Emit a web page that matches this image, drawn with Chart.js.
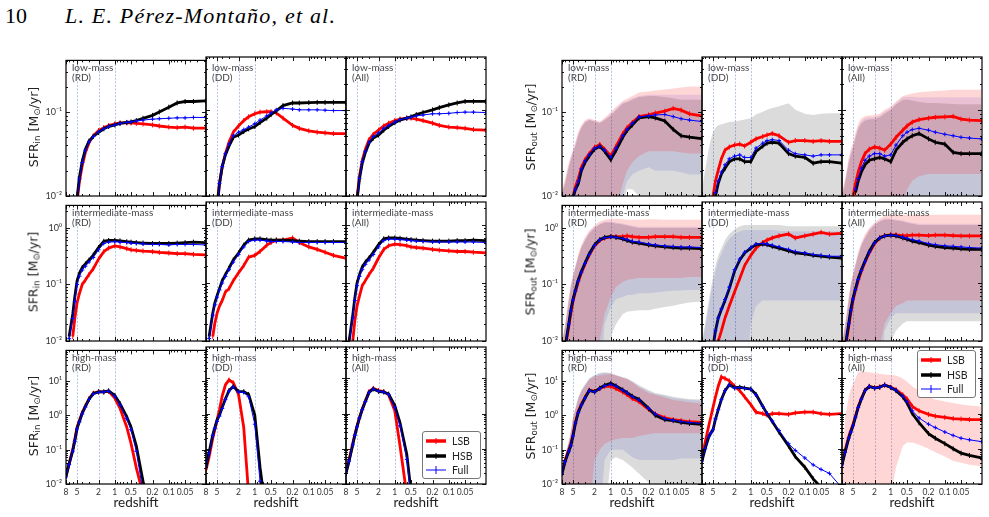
<!DOCTYPE html>
<html><head><meta charset="utf-8">
<script src="https://cdn.jsdelivr.net/npm/chart.js@4.4.1/dist/chart.umd.min.js"></script>
<style>
body{margin:0;background:#fff;width:989px;height:517px;overflow:hidden;position:relative;font-family:Lato,'Open Sans',sans-serif;}
canvas{position:absolute;}
.hd{position:absolute;font-family:'Liberation Serif','DejaVu Serif',serif;font-size:22px;line-height:24px;color:#000;white-space:nowrap}
.pl{position:absolute;font-size:10px;line-height:10px;color:#444;white-space:nowrap}
.yt{position:absolute;font-family:'DejaVu Sans',sans-serif;font-size:12.5px;color:#222;white-space:nowrap;transform:translate(-50%,-50%) rotate(-90deg);}
.yt sub{font-size:70%;vertical-align:-0.25em;line-height:0}
.xt{position:absolute;font-size:13.5px;line-height:16px;color:#222;white-space:nowrap;transform:translateX(-50%);}
.leg{position:absolute;background:#fff;border:1px solid #777;border-radius:3px;box-sizing:border-box;}
.li{position:absolute;left:0;height:14px;width:100%;font-size:10.5px;line-height:14px;color:#222;}
.li svg{position:absolute;left:2px;top:0;}
.li span{position:absolute;left:29px;top:0;}
</style></head><body>
<div class="hd" style="left:5px;top:4px;">10</div>
<div class="hd" style="left:65px;top:4px;font-style:italic;letter-spacing:1.2px;">L. E. Pérez-Montaño, et al.</div>
<script>
var n = null;
// redshift sampling grid (x values)
var Z = [8,7,6,5.5,5,4.5,4,3.5,3,2.5,2,1.6,1.3,1,0.8,0.6,0.5,0.4,0.3,0.2,0.15,0.1,0.07,0.05,0.035,0.021];
var xTickZ = [8,5,2,1,0.5,0.2,0.1,0.05];
var xTickLabels = ['8','5','2','1','0.5','0.2','0.1','0.05'];
var VLINES = [5,2,1];
var yTickVals = [0.01,0.1,1,10];
var yTickLabels = ['10\u207B\u00B2','10\u207B\u00B9','10\u2070','10\u00B9'];

// ---------- SFR_in ----------
var in_low_RD_HSB  = [n,n,n,0.005,0.0095,0.017,0.026,0.036,0.045,0.051,0.057,0.063,0.067,0.07,0.073,0.075,0.076,0.079,0.084,0.091,0.1,0.114,0.128,0.133,0.133,0.135];
var in_low_RD_LSB  = [n,n,n,0.004,0.0085,0.015,0.023,0.033,0.043,0.052,0.06,0.065,0.069,0.072,0.074,0.074,0.074,0.073,0.072,0.07,0.068,0.066,0.065,0.066,0.064,0.064];
var in_low_RD_Full = [n,n,n,0.0045,0.009,0.016,0.025,0.035,0.044,0.051,0.058,0.063,0.067,0.07,0.073,0.075,0.076,0.078,0.08,0.082,0.083,0.084,0.085,0.085,0.086,0.086];
var in_low_DD_HSB  = [n,n,n,n,0.007,0.014,0.022,0.03,0.038,0.048,0.051,0.056,0.06,0.064,0.071,0.08,0.088,0.097,0.112,0.12,0.12,0.121,0.122,0.122,0.122,0.122];
var in_low_DD_LSB  = [n,n,n,n,0.008,0.014,0.022,0.031,0.042,0.055,0.065,0.075,0.083,0.09,0.094,0.095,0.095,0.092,0.08,0.066,0.061,0.057,0.055,0.054,0.053,0.053];
var in_low_DD_Full = [n,n,n,n,0.0075,0.014,0.022,0.031,0.04,0.05,0.055,0.059,0.063,0.069,0.076,0.085,0.092,0.1,0.104,0.102,0.1,0.1,0.1,0.099,0.098,0.098];
var in_low_All_HSB  = [n,n,n,n,0.009,0.016,0.024,0.032,0.041,0.047,0.051,0.058,0.064,0.071,0.076,0.08,0.083,0.088,0.093,0.1,0.106,0.114,0.12,0.125,0.125,0.125];
var in_low_All_LSB  = [n,n,n,n,0.0095,0.017,0.026,0.035,0.045,0.052,0.058,0.065,0.07,0.075,0.078,0.08,0.08,0.078,0.075,0.07,0.066,0.063,0.062,0.061,0.059,0.058];
var in_low_All_Full = [n,n,n,n,0.009,0.016,0.025,0.033,0.042,0.049,0.054,0.061,0.066,0.072,0.077,0.08,0.082,0.085,0.087,0.09,0.09,0.091,0.093,0.094,0.094,0.093];

var in_int_RD_HSB  = [n,0.012,0.03,0.06,0.115,0.16,0.2,0.23,0.27,0.33,0.45,0.58,0.6,0.6,0.59,0.57,0.56,0.55,0.54,0.53,0.53,0.53,0.54,0.55,0.56,0.55];
var in_int_RD_Full = [n,0.011,0.025,0.05,0.1,0.14,0.18,0.21,0.25,0.3,0.41,0.53,0.56,0.57,0.56,0.55,0.54,0.53,0.52,0.51,0.51,0.5,0.51,0.51,0.51,0.5];
var in_int_RD_LSB  = [n,n,0.012,0.025,0.047,0.07,0.1,0.12,0.15,0.19,0.28,0.38,0.44,0.48,0.46,0.43,0.41,0.4,0.39,0.38,0.37,0.36,0.35,0.35,0.34,0.334];
var in_int_DD_HSB  = [n,0.012,0.03,0.045,0.06,0.08,0.11,0.14,0.18,0.25,0.33,0.45,0.55,0.58,0.58,0.56,0.55,0.55,0.55,0.54,0.53,0.52,0.52,0.52,0.52,0.52];
var in_int_DD_Full = [n,0.011,0.028,0.042,0.057,0.076,0.1,0.13,0.17,0.23,0.31,0.42,0.52,0.55,0.55,0.53,0.52,0.52,0.52,0.51,0.5,0.5,0.5,0.5,0.5,0.5];
var in_int_DD_LSB  = [n,n,0.012,0.02,0.03,0.04,0.05,0.07,0.08,0.11,0.15,0.2,0.28,0.3,0.35,0.45,0.5,0.55,0.55,0.6,0.5,0.42,0.38,0.34,0.3,0.27];
var in_int_All_HSB  = [n,0.01,0.028,0.055,0.1,0.14,0.19,0.23,0.27,0.34,0.46,0.58,0.6,0.6,0.59,0.57,0.56,0.55,0.54,0.53,0.53,0.53,0.54,0.54,0.55,0.54];
var in_int_All_Full = [n,0.009,0.025,0.05,0.09,0.13,0.17,0.21,0.25,0.31,0.42,0.54,0.57,0.57,0.56,0.55,0.54,0.53,0.52,0.51,0.51,0.51,0.51,0.51,0.51,0.5];
var in_int_All_LSB  = [n,n,0.01,0.022,0.04,0.06,0.09,0.11,0.14,0.18,0.27,0.38,0.44,0.47,0.46,0.44,0.42,0.41,0.4,0.38,0.37,0.36,0.35,0.35,0.34,0.33];

var in_high_RD_HSB  = [0.0164,0.038,0.094,0.18,0.41,0.67,1.15,1.8,2.96,4.3,4.8,4.8,5.2,3.8,2.2,0.9,0.45,0.13,0.012,0.001,n,n,n,n,n,n];
var in_high_RD_Full = [0.016,0.037,0.09,0.175,0.4,0.65,1.1,1.75,2.9,4.2,4.7,4.8,5.1,3.6,2.0,0.8,0.38,0.09,0.006,0.0005,n,n,n,n,n,n];
var in_high_RD_LSB  = [0.018,0.04,0.1,0.2,0.45,0.72,1.2,1.9,3.0,4.4,4.9,4.8,5.0,3.2,1.6,0.45,0.15,0.03,0.005,0.0005,n,n,n,n,n,n];
var in_high_DD_LSB  = [0.025,0.06,0.2,0.35,0.65,1.3,3.2,6.5,9,7.5,3.5,0.4,0.005,n,n,n,n,n,n,n,n,n,n,n,n,n];
var in_high_DD_HSB  = [0.03,0.08,0.25,0.4,0.65,0.9,1.5,2.6,4.5,5.9,4.2,4.2,3.5,0.9,0.03,0.001,n,n,n,n,n,n,n,n,n,n];
var in_high_DD_Full = [0.03,0.075,0.24,0.38,0.6,0.85,1.4,2.5,4.4,5.7,4.1,4.0,3.0,0.5,0.012,0.0005,n,n,n,n,n,n,n,n,n,n];
var in_high_All_HSB  = [0.02,0.045,0.13,0.24,0.42,0.75,1.3,2.2,4.0,5.0,4.3,4.1,3.6,1.7,0.55,0.07,0.006,n,n,n,n,n,n,n,n,n];
var in_high_All_Full = [0.02,0.045,0.13,0.24,0.42,0.75,1.3,2.2,4.0,5.0,4.3,4.1,3.5,1.5,0.45,0.05,0.004,n,n,n,n,n,n,n,n,n];
var in_high_All_LSB  = [0.022,0.05,0.14,0.25,0.45,0.78,1.35,2.3,4.2,5.2,4.5,4.2,3.4,1.2,0.12,0.005,n,n,n,n,n,n,n,n,n,n];

// ---------- SFR_out ----------
var out_low_RD_HSB  = [n,n,n,n,0.0095,0.012,0.014,0.02,0.025,0.03,0.036,0.039,0.034,0.027,0.035,0.05,0.06,0.07,0.085,0.088,0.085,0.078,0.062,0.052,0.05,0.048];
var out_low_RD_Full = [n,n,n,n,0.01,0.012,0.015,0.021,0.026,0.031,0.037,0.039,0.035,0.029,0.037,0.052,0.062,0.073,0.087,0.09,0.092,0.093,0.088,0.083,0.08,0.077];
var out_low_RD_LSB  = [n,n,n,n,0.01,0.013,0.016,0.022,0.027,0.032,0.038,0.041,0.036,0.03,0.039,0.055,0.065,0.075,0.088,0.092,0.097,0.102,0.11,0.105,0.095,0.09];
var out_low_RD_LSB_hi  = [0.012,0.016,0.025,0.03,0.036,0.045,0.058,0.07,0.08,0.084,0.08,0.077,0.085,0.1,0.115,0.135,0.143,0.155,0.17,0.175,0.18,0.185,0.19,0.195,0.2,0.2];
var out_low_RD_LSB_lo  = [0.001,0.001,0.001,0.001,0.001,0.001,0.001,0.001,0.001,0.001,0.001,0.001,0.001,0.003,0.007,0.014,0.02,0.025,0.03,0.034,0.034,0.034,0.034,0.033,0.032,0.032];
var out_low_RD_HSB_hi  = [0.011,0.014,0.022,0.027,0.033,0.04,0.052,0.065,0.075,0.08,0.077,0.074,0.08,0.09,0.105,0.125,0.13,0.14,0.15,0.155,0.155,0.15,0.145,0.14,0.14,0.14];
var out_low_RD_HSB_lo  = [0.001,0.001,0.001,0.001,0.001,0.001,0.001,0.001,0.001,0.001,0.001,0.001,0.001,0.001,0.004,0.008,0.012,0.012,0.01,0.005,0.001,0.001,0.001,0.001,0.001,0.001];
var out_low_RD_Full_hi = [0.011,0.015,0.023,0.028,0.034,0.042,0.055,0.067,0.077,0.082,0.078,0.075,0.082,0.095,0.11,0.13,0.135,0.145,0.155,0.16,0.16,0.16,0.16,0.16,0.16,0.16];
var out_low_RD_Full_lo = [0.001,0.001,0.001,0.001,0.001,0.001,0.001,0.001,0.001,0.001,0.001,0.001,0.001,0.001,0.005,0.01,0.015,0.018,0.02,0.022,0.02,0.02,0.02,0.019,0.018,0.018];

var out_low_DD_LSB  = [n,n,n,n,0.01,0.015,0.02,0.027,0.034,0.037,0.039,0.04,0.038,0.042,0.046,0.049,0.051,0.053,0.05,0.042,0.044,0.044,0.043,0.044,0.043,0.043];
var out_low_DD_HSB  = [n,n,n,n,n,0.01,0.014,0.018,0.021,0.025,0.027,0.027,0.025,0.025,0.033,0.038,0.041,0.042,0.041,0.031,0.029,0.028,0.024,0.025,0.025,0.024];
var out_low_DD_Full = [n,n,n,n,n,0.011,0.015,0.019,0.023,0.027,0.029,0.03,0.028,0.028,0.036,0.041,0.044,0.045,0.044,0.034,0.031,0.03,0.029,0.03,0.03,0.03];
var out_low_DD_HSB_hi = [0.012,0.02,0.035,0.045,0.055,0.062,0.066,0.068,0.07,0.072,0.073,0.075,0.077,0.08,0.088,0.095,0.1,0.105,0.11,0.119,0.1,0.09,0.087,0.09,0.091,0.091];
var out_low_DD_HSB_lo = [0.001,0.001,0.001,0.001,0.001,0.001,0.001,0.001,0.001,0.001,0.001,0.001,0.001,0.001,0.001,0.001,0.001,0.001,0.001,0.001,0.001,0.001,0.001,0.001,0.001,0.001];

var out_low_All_LSB  = [n,n,n,n,0.01,0.014,0.019,0.025,0.031,0.035,0.037,0.036,0.034,0.04,0.048,0.058,0.065,0.072,0.077,0.08,0.082,0.083,0.084,0.078,0.076,0.075];
var out_low_All_HSB  = [n,n,n,n,n,0.011,0.015,0.019,0.023,0.026,0.027,0.028,0.027,0.025,0.034,0.042,0.046,0.05,0.053,0.046,0.042,0.04,0.032,0.031,0.031,0.031];
var out_low_All_Full = [n,n,n,n,n,0.012,0.016,0.021,0.026,0.029,0.031,0.031,0.029,0.03,0.039,0.05,0.055,0.059,0.061,0.058,0.055,0.052,0.05,0.048,0.047,0.046];
var out_low_All_LSB_hi  = [0.011,0.016,0.028,0.035,0.041,0.055,0.07,0.08,0.085,0.086,0.087,0.09,0.1,0.109,0.125,0.145,0.15,0.155,0.16,0.163,0.165,0.168,0.171,0.171,0.171,0.171];
var out_low_All_LSB_lo  = [0.001,0.001,0.001,0.001,0.001,0.001,0.001,0.001,0.001,0.001,0.001,0.001,0.001,0.001,0.001,0.008,0.012,0.015,0.017,0.018,0.018,0.018,0.018,0.018,0.018,0.018];
var out_low_All_HSB_hi  = [0.01,0.014,0.024,0.03,0.036,0.047,0.06,0.07,0.075,0.077,0.078,0.082,0.09,0.1,0.115,0.13,0.132,0.128,0.123,0.12,0.12,0.118,0.117,0.116,0.116,0.116];
var out_low_All_HSB_lo  = [0.001,0.001,0.001,0.001,0.001,0.001,0.001,0.001,0.001,0.001,0.001,0.001,0.001,0.001,0.001,0.001,0.001,0.001,0.001,0.001,0.001,0.001,0.001,0.001,0.001,0.001];
var out_low_All_Full_hi = [0.0105,0.015,0.026,0.032,0.038,0.05,0.064,0.074,0.08,0.082,0.082,0.086,0.095,0.104,0.12,0.14,0.142,0.142,0.14,0.14,0.14,0.14,0.14,0.14,0.14,0.14];
var out_low_All_Full_lo = [0.001,0.001,0.001,0.001,0.001,0.001,0.001,0.001,0.001,0.001,0.001,0.001,0.001,0.001,0.001,0.001,0.001,0.001,0.001,0.001,0.001,0.001,0.001,0.001,0.001,0.001];

var out_int_RD_HSB  = [n,0.008,0.02,0.035,0.055,0.08,0.12,0.17,0.24,0.35,0.5,0.62,0.68,0.7,0.68,0.64,0.6,0.56,0.54,0.5,0.48,0.46,0.45,0.44,0.44,0.43];
var out_int_RD_Full = [n,0.008,0.02,0.034,0.053,0.077,0.115,0.165,0.235,0.34,0.49,0.61,0.67,0.69,0.68,0.65,0.62,0.58,0.56,0.52,0.5,0.48,0.47,0.46,0.46,0.45];
var out_int_RD_LSB  = [n,0.007,0.018,0.03,0.05,0.075,0.11,0.16,0.23,0.33,0.48,0.6,0.66,0.7,0.7,0.7,0.72,0.7,0.68,0.68,0.7,0.7,0.7,0.68,0.68,0.68];
var out_int_RD_LSB_hi  = [0.01,0.02,0.06,0.1,0.15,0.22,0.35,0.5,0.7,0.9,1.1,1.3,1.4,1.45,1.45,1.42,1.4,1.4,1.4,1.42,1.42,1.4,1.4,1.4,1.4,1.4];
var out_int_RD_LSB_lo  = [0.001,0.001,0.001,0.001,0.001,0.001,0.001,0.001,0.001,0.001,0.001,0.01,0.03,0.06,0.09,0.11,0.12,0.125,0.13,0.13,0.13,0.13,0.13,0.13,0.135,0.135];
var out_int_RD_HSB_hi  = [0.009,0.018,0.05,0.09,0.13,0.2,0.3,0.45,0.6,0.8,1.0,1.15,1.25,1.25,1.2,1.15,1.1,1.05,1.0,1.0,1.0,1.0,1.0,1.0,1.0,1.0];
var out_int_RD_HSB_lo  = [0.001,0.001,0.001,0.001,0.001,0.001,0.001,0.001,0.001,0.001,0.001,0.001,0.001,0.012,0.02,0.03,0.033,0.034,0.035,0.035,0.037,0.04,0.042,0.045,0.048,0.05];
var out_int_RD_Full_hi = [0.009,0.019,0.055,0.095,0.14,0.21,0.32,0.47,0.63,0.85,1.05,1.2,1.3,1.3,1.25,1.2,1.15,1.1,1.05,1.05,1.05,1.05,1.05,1.05,1.05,1.05];
var out_int_RD_Full_lo = [0.001,0.001,0.001,0.001,0.001,0.001,0.001,0.001,0.001,0.001,0.001,0.001,0.02,0.04,0.055,0.06,0.065,0.065,0.07,0.07,0.072,0.075,0.077,0.078,0.08,0.08];

var out_int_DD_HSB  = [n,n,n,n,0.008,0.015,0.025,0.035,0.05,0.08,0.16,0.25,0.33,0.4,0.46,0.47,0.46,0.43,0.4,0.36,0.33,0.32,0.3,0.29,0.28,0.27];
var out_int_DD_Full = [n,n,n,n,0.008,0.015,0.025,0.036,0.052,0.085,0.17,0.26,0.34,0.41,0.47,0.48,0.47,0.45,0.42,0.38,0.35,0.33,0.31,0.3,0.29,0.29];
var out_int_DD_LSB  = [n,n,n,n,n,0.006,0.01,0.015,0.025,0.04,0.07,0.12,0.2,0.3,0.4,0.5,0.55,0.6,0.65,0.7,0.6,0.65,0.7,0.75,0.7,0.72];
var out_int_DD_HSB_hi  = [0.01,0.02,0.05,0.08,0.13,0.2,0.3,0.4,0.55,0.7,0.85,0.95,1.0,1.0,1.0,1.0,1.0,1.0,1.0,0.95,0.95,0.95,0.95,0.95,0.95,0.95];
var out_int_DD_HSB_lo  = [0.001,0.001,0.001,0.001,0.001,0.001,0.001,0.001,0.001,0.001,0.001,0.001,0.001,0.001,0.001,0.001,0.001,0.001,0.001,0.001,0.001,0.001,0.001,0.001,0.001,0.001];
var out_int_DD_Full_hi = [0.009,0.017,0.04,0.065,0.1,0.16,0.24,0.32,0.45,0.58,0.7,0.78,0.82,0.82,0.82,0.82,0.82,0.82,0.8,0.78,0.78,0.78,0.78,0.78,0.78,0.78];
var out_int_DD_Full_lo = [0.001,0.001,0.001,0.001,0.001,0.001,0.001,0.001,0.001,0.001,0.001,0.001,0.001,0.02,0.04,0.05,0.05,0.05,0.05,0.05,0.05,0.05,0.05,0.05,0.05,0.05];

var out_int_All_HSB  = [n,0.008,0.02,0.035,0.055,0.08,0.12,0.17,0.24,0.35,0.5,0.6,0.65,0.67,0.65,0.6,0.57,0.53,0.5,0.45,0.43,0.41,0.4,0.39,0.38,0.38];
var out_int_All_Full = [n,0.008,0.02,0.034,0.053,0.077,0.115,0.165,0.235,0.34,0.49,0.6,0.65,0.67,0.66,0.62,0.59,0.56,0.53,0.48,0.46,0.44,0.43,0.42,0.41,0.4];
var out_int_All_LSB  = [n,0.007,0.018,0.03,0.05,0.075,0.11,0.16,0.23,0.33,0.48,0.6,0.66,0.68,0.68,0.66,0.66,0.67,0.67,0.66,0.67,0.67,0.66,0.65,0.65,0.65];
var out_int_All_LSB_hi  = [0.01,0.02,0.06,0.1,0.15,0.22,0.35,0.5,0.7,0.9,1.1,1.3,1.45,1.5,1.5,1.5,1.5,1.5,1.5,1.5,1.5,1.5,1.5,1.5,1.5,1.5];
var out_int_All_LSB_lo  = [0.001,0.001,0.001,0.001,0.001,0.001,0.001,0.001,0.001,0.001,0.001,0.008,0.02,0.03,0.04,0.045,0.05,0.05,0.05,0.05,0.05,0.05,0.05,0.05,0.05,0.05];
var out_int_All_HSB_hi  = [0.009,0.018,0.05,0.09,0.13,0.2,0.3,0.45,0.6,0.8,1.0,1.15,1.25,1.25,1.2,1.15,1.1,1.05,1.0,1.0,1.0,1.0,1.0,1.0,1.0,1.0];
var out_int_All_HSB_lo  = [0.001,0.001,0.001,0.001,0.001,0.001,0.001,0.001,0.001,0.001,0.001,0.001,0.001,0.01,0.015,0.02,0.022,0.022,0.022,0.022,0.022,0.022,0.022,0.022,0.022,0.022];
var out_int_All_Full_hi = [0.009,0.019,0.055,0.095,0.14,0.21,0.32,0.47,0.63,0.85,1.05,1.2,1.3,1.3,1.25,1.2,1.15,1.1,1.05,1.05,1.05,1.05,1.05,1.05,1.05,1.05];
var out_int_All_Full_lo = [0.001,0.001,0.001,0.001,0.001,0.001,0.001,0.001,0.001,0.001,0.001,0.001,0.015,0.025,0.03,0.03,0.03,0.03,0.03,0.03,0.03,0.03,0.03,0.03,0.03,0.03];

var out_high_RD_HSB  = [0.02,0.045,0.09,0.13,0.25,0.6,1.2,2.0,3.2,5.3,4.8,6.2,7.5,8.6,7.2,5.5,4.6,3.6,2.9,1.6,1.0,0.75,0.7,0.62,0.58,0.55];
var out_high_RD_Full = [0.02,0.045,0.09,0.13,0.25,0.6,1.2,2.0,3.2,5.2,4.8,6.0,7.2,8.0,7.0,5.4,4.5,3.5,2.8,1.6,1.1,0.8,0.72,0.66,0.62,0.58];
var out_high_RD_LSB  = [0.022,0.05,0.1,0.15,0.28,0.65,1.3,2.1,3.3,5.4,5.0,6.0,7.0,7.0,6.0,4.8,4.0,3.1,2.5,1.5,1.1,0.85,0.75,0.7,0.65,0.62];
var out_high_RD_LSB_hi  = [0.03,0.06,0.15,0.3,0.8,1.5,3,5,7,11,13.5,14.5,15.5,16,14.5,12.5,11.4,9,6.5,4.5,4,3.3,2.8,2.6,2.4,2.2];
var out_high_RD_LSB_lo  = [0.001,0.001,0.001,0.001,0.001,0.001,0.001,0.001,0.001,0.001,0.05,0.1,0.15,0.18,0.2,0.22,0.22,0.22,0.25,0.28,0.3,0.3,0.3,0.3,0.3,0.3];
var out_high_RD_HSB_hi  = [0.03,0.07,0.18,0.35,0.9,1.7,3.3,5.5,8,12,15,17,18,17,15,13,12,10,7.5,5.5,4.5,4,3.5,3.2,3,2.9];
var out_high_RD_HSB_lo  = [0.001,0.001,0.001,0.001,0.001,0.001,0.001,0.001,0.001,0.001,0.001,0.001,0.001,0.05,0.06,0.05,0.04,0.03,0.02,0.011,0.005,0.001,0.001,0.001,0.001,0.001];
var out_high_RD_Full_hi = [0.03,0.065,0.17,0.33,0.85,1.6,3.2,5.3,7.8,11.5,14.5,16.5,17.5,16.5,14.5,12.5,11.5,9.5,7,5,4.2,3.7,3.2,3,2.8,2.7];
var out_high_RD_Full_lo = [0.001,0.001,0.001,0.001,0.001,0.001,0.001,0.001,0.001,0.001,0.001,0.001,0.05,0.1,0.1,0.1,0.08,0.06,0.05,0.05,0.05,0.05,0.05,0.055,0.055,0.055];

var out_high_DD_LSB  = [0.06,0.15,0.45,0.8,1.5,3.0,6.0,11,10,8.5,6.0,4.5,3.0,1.8,1.1,1.0,0.9,1.0,1.0,0.95,1.05,1.1,1.1,1.0,0.95,1.0];
var out_high_DD_HSB  = [0.045,0.1,0.22,0.28,0.35,0.7,1.3,2.5,4.5,6.6,5.4,5.6,5.3,5.0,3.5,1.6,1.0,0.6,0.3,0.12,0.06,0.03,0.014,0.008,0.005,0.003];
var out_high_DD_Full = [0.045,0.1,0.22,0.28,0.35,0.7,1.3,2.5,4.5,6.5,5.3,5.5,5.2,4.9,3.4,1.6,1.0,0.62,0.33,0.14,0.09,0.055,0.035,0.026,0.02,0.008];

var out_high_All_HSB  = [0.035,0.08,0.2,0.3,0.45,0.8,1.5,2.6,4.5,5.9,5.3,5.6,6.5,5.5,4.5,3.0,2.0,1.0,0.55,0.27,0.2,0.14,0.1,0.075,0.065,0.055];
var out_high_All_Full = [0.035,0.08,0.2,0.3,0.45,0.8,1.5,2.6,4.5,5.9,5.3,5.6,6.5,5.5,4.6,3.1,2.2,1.2,0.75,0.5,0.4,0.3,0.24,0.2,0.18,0.16];
var out_high_All_LSB  = [0.04,0.09,0.22,0.33,0.5,0.85,1.6,2.7,4.6,6.0,5.4,5.7,6.5,5.6,4.8,3.4,2.6,1.6,1.2,0.95,0.85,0.78,0.72,0.7,0.68,0.67];
var out_high_All_LSB_hi = [0.03,0.8,3,5,7,10,15,16,15.5,15,14,13.5,13,12.5,12,10,8,6,4.5,3,2.5,2.2,2,1.8,1.7,1.6];
var out_high_All_LSB_lo = [0.001,0.001,0.001,0.001,0.001,0.001,0.001,0.001,0.001,0.001,0.001,0.001,0.001,0.005,0.03,0.12,0.15,0.15,0.13,0.1,0.08,0.06,0.045,0.04,0.035,0.032];

// ---------- layout ----------
var L = 50, R = 6, T = 6, B = 26, COLW = 140;
var GROUPS = [{k:'in', x0:66, title:'SFR<sub>in</sub> [M<sub>\u2299</sub>/yr]', tx:33},
              {k:'out', x0:562, title:'SFR<sub>out</sub> [M<sub>\u2299</sub>/yr]', tx:530}];
var ROWS = [{k:'low', top:57, h:139, ymax:0.41, name:'low-mass'},
            {k:'int', top:202, h:139, ymax:2.5, name:'intermediate-mass'},
            {k:'high', top:347, h:137, ymax:78, name:'high-mass'}];
var COLS = ['RD','DD','All'];
var BAND_COLORS = {LSB:'rgba(255,0,0,0.16)', HSB:'rgba(0,0,0,0.14)', Full:'rgba(0,0,230,0.10)'};
var FONT = 'Lato, "Open Sans", sans-serif';

function pts(arr){ return Z.map(function(z,i){ return {x:z, y:arr[i]}; }); }

function buildDatasets(key){
  var out = [];
  function line(s, opt){
    var a = window[key+s];
    if (a) out.push(Object.assign({data:pts(a), fill:false, tension:0, spanGaps:false}, opt));
  }
  line('Full', {borderColor:'#0000ff', borderWidth:1, pointStyle:'cross', pointRadius:2, pointBorderWidth:1, pointBorderColor:'#0000ff', pointBackgroundColor:'#0000ff', order:0});
  line('HSB',  {borderColor:'#000000', borderWidth:2.8, pointStyle:'line', rotation:90, pointRadius:2.5, pointBorderWidth:1, pointBorderColor:'#000000', order:1});
  line('LSB',  {borderColor:'#ff0000', borderWidth:2.8, pointStyle:'line', rotation:90, pointRadius:2.5, pointBorderWidth:1, pointBorderColor:'#ff0000', order:2});
  ['LSB','HSB','Full'].forEach(function(s){
    var lo = window[key+s+'_lo'], hi = window[key+s+'_hi'];
    if (lo && hi){
      out.push({data:pts(lo), borderWidth:0, borderColor:'rgba(0,0,0,0)', pointRadius:0, fill:false, tension:0, order:5});
      out.push({data:pts(hi), borderWidth:0, borderColor:'rgba(0,0,0,0)', pointRadius:0, fill:'-1', backgroundColor:BAND_COLORS[s], tension:0, order:5});
    }
  });
  return out;
}

function minorVals(lo, hi, majors){
  var v = [];
  for (var d=-3; d<=2; d++) for (var k=1;k<=9;k++){
    var x = +(k*Math.pow(10,d)).toPrecision(6);
    if (x>lo && x<hi && majors.indexOf(x)<0) v.push(x);
  }
  return v;
}

var framePlugin = {
  id:'frame',
  beforeDatasetsDraw: function(ch){
    var ctx = ch.ctx, a = ch.chartArea, x = ch.scales.x;
    ctx.save(); ctx.strokeStyle='#b4c6e4'; ctx.lineWidth=1; ctx.setLineDash([2,1.5]);
    VLINES.forEach(function(z){ var p=Math.round(x.getPixelForValue(z))+0.5; ctx.beginPath(); ctx.moveTo(p,a.top); ctx.lineTo(p,a.bottom); ctx.stroke(); });
    ctx.restore();
  },
  afterDraw: function(ch){
    var ctx = ch.ctx, a = ch.chartArea, x = ch.scales.x, y = ch.scales.y;
    ctx.save(); ctx.strokeStyle='#000'; ctx.lineWidth=0.9;
    function seg(x1,y1,x2,y2){ ctx.beginPath(); ctx.moveTo(x1,y1); ctx.lineTo(x2,y2); ctx.stroke(); }
    var xmaj = xTickZ, xmin = minorVals(x.min, x.max, xTickZ);
    xmaj.forEach(function(v){ var p=Math.round(x.getPixelForValue(v))+0.5; seg(p,a.bottom,p,a.bottom-4); seg(p,a.top,p,a.top+4); });
    xmin.forEach(function(v){ var p=Math.round(x.getPixelForValue(v))+0.5; seg(p,a.bottom,p,a.bottom-2); seg(p,a.top,p,a.top+2); });
    var ymaj = yTickVals.filter(function(v){return v>=y.min && v<=y.max;});
    var ymin = minorVals(y.min, y.max, yTickVals);
    ymaj.forEach(function(v){ var p=Math.round(y.getPixelForValue(v))+0.5; seg(a.left,p,a.left+4,p); seg(a.right,p,a.right-4,p); });
    ymin.forEach(function(v){ var p=Math.round(y.getPixelForValue(v))+0.5; seg(a.left,p,a.left+2,p); seg(a.right,p,a.right-2,p); });
    ctx.lineWidth=1.2;
    ctx.strokeRect(a.left, a.top, a.right-a.left, a.bottom-a.top);
    ctx.restore();
  }
};

GROUPS.forEach(function(g){
  ROWS.forEach(function(r, ri){
    COLS.forEach(function(c, ci){
      var key = g.k+'_'+r.k+'_'+c+'_';
      var px = g.x0 + ci*COLW;
      var cv = document.createElement('canvas');
      cv.width = COLW+L+R; cv.height = r.h+T+B;
      cv.style.left = (px-L)+'px'; cv.style.top = (r.top-T)+'px';
      document.body.appendChild(cv);
      var isBottom = ri===2, isLeft = ci===0;
      new Chart(cv, {
        type:'line',
        data:{datasets: buildDatasets(key)},
        options:{
          responsive:false, animation:false, devicePixelRatio:1, parsing:true,
          layout:{padding:{left:0,right:R,top:T,bottom:0}, autoPadding:false},
          plugins:{legend:{display:false}, tooltip:{enabled:false}},
          events:[],
          scales:{
            x:{type:'logarithmic', reverse:true, min:0.0205, max:8,
               grid:{display:false, drawTicks:false}, border:{display:false},
               afterBuildTicks:function(s){ s.ticks = xTickZ.map(function(v){return {value:v};}); },
               afterFit:function(s){ s.height = B; },
               ticks:{display:isBottom, autoSkip:false, maxRotation:0, minRotation:0, padding:3, color:'#333',
                      font:{family:FONT, size:8.5}, callback:function(v,i){ return xTickLabels[i]; }}},
            y:{type:'logarithmic', min:0.01, max:r.ymax,
               grid:{display:false, drawTicks:false}, border:{display:false},
               afterBuildTicks:function(s){ s.ticks = yTickVals.filter(function(v){return v<=r.ymax;}).map(function(v){return {value:v};}); },
               afterFit:function(s){ s.width = L; },
               ticks:{display:isLeft, padding:4, color:'#333', font:{family:FONT, size:9},
                      callback:function(v){ var i=yTickVals.indexOf(v); return i>=0 ? yTickLabels[i] : ''; }}}
          }
        },
        plugins:[framePlugin]
      });
      var lab = document.createElement('div');
      lab.className='pl'; lab.style.left=(px+6)+'px'; lab.style.top=(r.top+5)+'px';
      lab.innerHTML = r.name+'<br>('+c+')';
      document.body.appendChild(lab);
      if (isBottom){
        var xt = document.createElement('div'); xt.className='xt';
        xt.style.left=(px+COLW/2)+'px'; xt.style.top='494px'; xt.textContent='redshift';
        document.body.appendChild(xt);
      }
    });
    var yt = document.createElement('div'); yt.className='yt';
    yt.style.left=g.tx+'px'; yt.style.top=(r.top+r.h/2)+'px'; yt.innerHTML=g.title;
    document.body.appendChild(yt);
  });
});

// legends
function legend(left, top){
  var d = document.createElement('div'); d.className='leg';
  d.style.left=left+'px'; d.style.top=top+'px'; d.style.width='59px'; d.style.height='48px';
  var items = [['LSB','#ff0000',3.5,3],['HSB','#000000',3.5,3],['Full','#0000ff',1,4]];
  items.forEach(function(it, i){
    var row = document.createElement('div'); row.className='li'; row.style.top=(2+i*14.5)+'px';
    row.innerHTML = '<svg width="22" height="14"><line x1="1" y1="7" x2="21" y2="7" stroke="'+it[1]+'" stroke-width="'+it[2]+'"/>'+
      '<line x1="11" y1="'+(7-it[3])+'" x2="11" y2="'+(7+it[3])+'" stroke="'+it[1]+'" stroke-width="1"/></svg><span>'+it[0]+'</span>';
    d.appendChild(row);
  });
  document.body.appendChild(d);
}
legend(422, 431);
legend(917, 350);
</script>
</body></html>
